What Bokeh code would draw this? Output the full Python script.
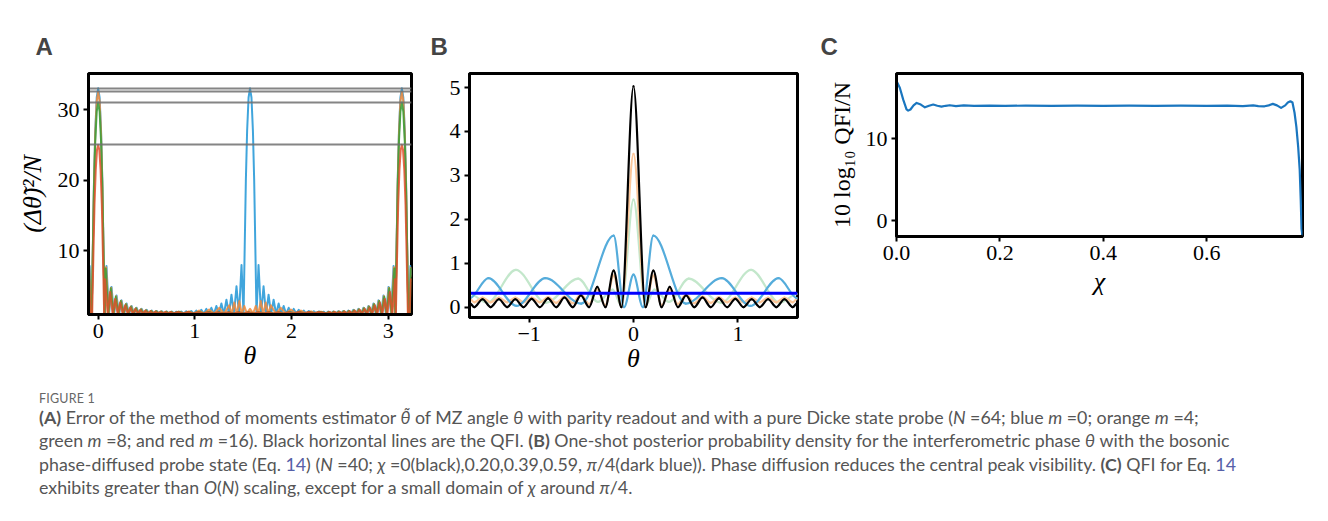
from bokeh.plotting import figure
from bokeh.models import FixedTicker, Div, PrintfTickFormatter
from bokeh.layouts import row, column
from bokeh.embed import file_html
from bokeh.resources import INLINE

# ---------------- Panel A data: (Δθ̃)²/N vs θ, N=64, m = 0, 4, 8, 16 ----------------
qfi_lines = [33.0, 32.5, 31.0, 25.0]

theta_blue = ([-0.100, -0.088, -0.076]
              + [-0.067, -0.055, -0.043, -0.030, -0.015, 0.000, 0.015, 0.030, 0.043, 0.055, 0.067]
              + [0.086, 0.112, 0.138, 0.164, 0.190, 0.216, 0.242, 0.268, 0.294, 0.320, 0.346, 0.372, 0.398, 0.424,
                 0.450, 0.476, 0.502, 0.528, 0.554, 0.580, 0.606, 0.632, 0.658, 0.684, 0.710, 0.736, 0.762, 0.788]
              + [0.807, 0.833, 0.859, 0.885, 0.911, 0.937, 0.963, 0.989, 1.015, 1.041, 1.067, 1.093, 1.119, 1.145,
                 1.171, 1.197, 1.223, 1.249, 1.275, 1.301, 1.327, 1.353, 1.379, 1.405, 1.431, 1.457, 1.483]
              + [1.504, 1.516, 1.528, 1.541, 1.556, 1.571, 1.586, 1.601, 1.614, 1.626, 1.638]
              + [1.659, 1.685, 1.711, 1.737, 1.763, 1.789, 1.815, 1.841, 1.867, 1.893, 1.919, 1.945, 1.971, 1.997,
                 2.023, 2.049, 2.075, 2.101, 2.127, 2.153, 2.179, 2.205, 2.231, 2.257, 2.283, 2.309, 2.335]
              + [2.354, 2.380, 2.406, 2.432, 2.458, 2.484, 2.510, 2.536, 2.562, 2.588, 2.614, 2.640, 2.666, 2.692,
                 2.718, 2.744, 2.770, 2.796, 2.822, 2.848, 2.874, 2.900, 2.926, 2.952, 2.978, 3.004, 3.030, 3.056]
              + [3.075, 3.087, 3.099, 3.112, 3.127, 3.142, 3.157, 3.172, 3.185, 3.197, 3.209]
              + [3.218, 3.230, 3.242])
err_blue = ([6.5, 7.85, 1.0]
            + [1.0, 10.5, 20.0, 27.0, 31.7, 33.0, 31.7, 27.0, 20.0, 10.5, 1.0]
            + [7.85, 1.0, 4.9, 1.0, 3.7, 1.02, 3.0, 1.05, 2.55, 1.07, 2.2, 1.08, 1.95, 1.1,
               1.8, 1.1, 1.65, 1.12, 1.55, 1.12, 1.5, 1.13, 1.45, 1.13, 1.42, 1.14, 1.4, 1.14]
            + [1.4, 1.14, 1.42, 1.13, 1.45, 1.13, 1.5, 1.12, 1.55, 1.12, 1.65, 1.1, 1.8, 1.1,
               1.95, 1.08, 2.2, 1.07, 2.55, 1.05, 3.1, 1.02, 3.8, 1.0, 5.0, 1.0, 8.0]
            + [1.0, 10.5, 20.0, 27.0, 31.7, 33.0, 31.7, 27.0, 20.0, 10.5, 1.0]
            + [8.0, 1.0, 5.0, 1.0, 3.8, 1.02, 3.1, 1.05, 2.55, 1.07, 2.2, 1.08, 1.95, 1.1,
               1.8, 1.1, 1.65, 1.12, 1.55, 1.12, 1.5, 1.13, 1.45, 1.13, 1.42, 1.14, 1.4]
            + [1.14, 1.4, 1.14, 1.42, 1.13, 1.45, 1.13, 1.5, 1.12, 1.55, 1.12, 1.65, 1.1, 1.8,
               1.1, 1.95, 1.08, 2.2, 1.07, 2.55, 1.05, 3.0, 1.02, 3.7, 1.0, 4.9, 1.0, 7.85]
            + [1.0, 10.5, 20.0, 27.0, 31.7, 33.0, 31.7, 27.0, 20.0, 10.5, 1.0]
            + [1.0, 7.85, 6.5])

theta_orange = ([-0.100, -0.092, -0.080]
                + [-0.067, -0.055, -0.043, -0.030, -0.015, 0.000, 0.015, 0.030, 0.043, 0.055, 0.067]
                + [0.082, 0.108, 0.134, 0.160, 0.186, 0.212, 0.238, 0.264, 0.290, 0.316, 0.342, 0.368, 0.394, 0.420,
                   0.446, 0.472, 0.498, 0.524, 0.550, 0.576, 0.602, 0.628, 0.654, 0.680, 0.706, 0.732, 0.758, 0.784]
                + [0.836, 0.888, 0.940, 0.992, 1.044, 1.096, 1.148, 1.200, 1.252, 1.304, 1.356, 1.382, 1.408,
                   1.434, 1.460, 1.486, 1.512, 1.538, 1.571, 1.604, 1.630, 1.656, 1.682, 1.708, 1.734, 1.760,
                   1.786, 1.838, 1.890, 1.942, 1.994, 2.046, 2.098, 2.150, 2.202, 2.254, 2.306]
                + [2.358, 2.384, 2.410, 2.436, 2.462, 2.488, 2.514, 2.540, 2.566, 2.592, 2.618, 2.644, 2.670, 2.696,
                   2.722, 2.748, 2.774, 2.800, 2.826, 2.852, 2.878, 2.904, 2.930, 2.956, 2.982, 3.008, 3.034, 3.060]
                + [3.075, 3.087, 3.099, 3.112, 3.127, 3.142, 3.157, 3.172, 3.185, 3.197, 3.209]
                + [3.222, 3.234, 3.242])
err_orange = ([6.3, 7.6, 1.0]
              + [1.0, 10.3, 19.7, 26.6, 31.2, 32.5, 31.2, 26.6, 19.7, 10.3, 1.0]
              + [7.7, 1.0, 4.8, 1.0, 3.6, 1.02, 2.95, 1.05, 2.5, 1.07, 2.15, 1.08, 1.9, 1.1,
                 1.75, 1.1, 1.6, 1.12, 1.52, 1.12, 1.47, 1.13, 1.43, 1.13, 1.4, 1.14, 1.38, 1.14]
              + [1.4, 1.14, 1.45, 1.13, 1.55, 1.12, 1.7, 1.1, 1.95, 1.1, 2.3, 1.08, 2.7,
                 1.08, 2.9, 1.1, 2.2, 1.15, 1.8, 1.15, 2.2, 1.1, 2.9, 1.08, 2.7, 1.08,
                 2.3, 1.1, 1.95, 1.1, 1.7, 1.12, 1.55, 1.13, 1.45, 1.14, 1.4]
              + [1.14, 1.38, 1.14, 1.4, 1.13, 1.43, 1.13, 1.47, 1.12, 1.52, 1.12, 1.6, 1.1, 1.75,
                 1.1, 1.9, 1.08, 2.15, 1.07, 2.5, 1.05, 2.95, 1.02, 3.6, 1.0, 4.8, 1.0, 7.7]
              + [1.0, 10.3, 19.7, 26.6, 31.2, 32.5, 31.2, 26.6, 19.7, 10.3, 1.0]
              + [1.0, 7.6, 6.3])

theta_green = ([-0.100, -0.094, -0.082]
               + [-0.067, -0.055, -0.043, -0.030, -0.015, 0.000, 0.015, 0.030, 0.043, 0.055, 0.067]
               + [0.078, 0.104, 0.130, 0.156, 0.182, 0.208, 0.234, 0.260, 0.286, 0.312, 0.338, 0.364, 0.390, 0.416,
                  0.442, 0.468, 0.494, 0.520, 0.546, 0.572, 0.598, 0.624, 0.650, 0.676, 0.702, 0.728, 0.754, 0.780]
               + [0.832, 0.884, 0.936, 0.988, 1.040, 1.092, 1.144, 1.196, 1.248, 1.300, 1.352, 1.404, 1.456,
                  1.508, 1.560, 1.612, 1.664, 1.716, 1.768, 1.820, 1.872, 1.924, 1.976, 2.028, 2.080, 2.132,
                  2.184, 2.236, 2.288]
               + [2.362, 2.388, 2.414, 2.440, 2.466, 2.492, 2.518, 2.544, 2.570, 2.596, 2.622, 2.648, 2.674, 2.700,
                  2.726, 2.752, 2.778, 2.804, 2.830, 2.856, 2.882, 2.908, 2.934, 2.960, 2.986, 3.012, 3.038, 3.064]
               + [3.075, 3.087, 3.099, 3.112, 3.127, 3.142, 3.157, 3.172, 3.185, 3.197, 3.209]
               + [3.224, 3.236, 3.242])
err_green = ([6.8, 7.5, 1.0]
             + [1.0, 10.0, 19.0, 25.5, 29.7, 31.0, 29.7, 25.5, 19.0, 10.0, 1.0]
             + [7.5, 1.0, 4.7, 1.0, 3.5, 1.02, 2.9, 1.05, 2.45, 1.07, 2.1, 1.08, 1.88, 1.1,
                1.72, 1.1, 1.6, 1.12, 1.5, 1.12, 1.45, 1.13, 1.42, 1.13, 1.4, 1.14, 1.38, 1.14]
             + [1.38, 1.14, 1.36, 1.14, 1.35, 1.14, 1.35, 1.15, 1.34, 1.15, 1.34, 1.15, 1.33, 1.15,
                1.33, 1.15, 1.33, 1.15, 1.34, 1.15, 1.34, 1.15, 1.35, 1.14, 1.35, 1.14, 1.36, 1.14, 1.38]
             + [1.14, 1.38, 1.14, 1.4, 1.13, 1.42, 1.13, 1.45, 1.12, 1.5, 1.12, 1.6, 1.1, 1.72,
                1.1, 1.88, 1.08, 2.1, 1.07, 2.45, 1.05, 2.9, 1.02, 3.5, 1.0, 4.7, 1.0, 7.5]
             + [1.0, 10.0, 19.0, 25.5, 29.7, 31.0, 29.7, 25.5, 19.0, 10.0, 1.0]
             + [1.0, 7.5, 6.8])

theta_red = ([-0.100, -0.094, -0.080]
             + [-0.062, -0.050, -0.038, -0.025, -0.012, 0.000, 0.012, 0.025, 0.038, 0.050, 0.062]
             + [0.072, 0.098, 0.124, 0.150, 0.176, 0.202, 0.228, 0.254, 0.280, 0.306, 0.332, 0.358, 0.384, 0.410,
                0.436, 0.462, 0.488, 0.514, 0.540, 0.566, 0.592, 0.618, 0.644, 0.670, 0.696, 0.722, 0.748, 0.774]
             + [0.826, 0.878, 0.930, 0.982, 1.034, 1.086, 1.138, 1.190, 1.242, 1.294, 1.346, 1.398, 1.450,
                1.502, 1.554, 1.606, 1.658, 1.710, 1.762, 1.814, 1.866, 1.918, 1.970, 2.022, 2.074, 2.126,
                2.178, 2.230, 2.282]
             + [2.368, 2.394, 2.420, 2.446, 2.472, 2.498, 2.524, 2.550, 2.576, 2.602, 2.628, 2.654, 2.680, 2.706,
                2.732, 2.758, 2.784, 2.810, 2.836, 2.862, 2.888, 2.914, 2.940, 2.966, 2.992, 3.018, 3.044, 3.070]
             + [3.080, 3.092, 3.104, 3.117, 3.130, 3.142, 3.154, 3.167, 3.180, 3.192, 3.204]
             + [3.222, 3.236, 3.242])
err_red = ([5.5, 6.0, 1.0]
           + [1.0, 9.0, 16.5, 21.5, 24.3, 25.0, 24.3, 21.5, 16.5, 9.0, 1.0]
           + [6.0, 1.0, 4.2, 1.0, 3.2, 1.02, 2.7, 1.05, 2.3, 1.07, 2.0, 1.08, 1.8, 1.1,
              1.65, 1.1, 1.55, 1.12, 1.48, 1.12, 1.42, 1.13, 1.4, 1.13, 1.38, 1.14, 1.36, 1.14]
           + [1.36, 1.14, 1.35, 1.14, 1.34, 1.15, 1.33, 1.15, 1.33, 1.15, 1.32, 1.15, 1.32, 1.15,
              1.32, 1.15, 1.32, 1.15, 1.33, 1.15, 1.33, 1.15, 1.34, 1.14, 1.35, 1.14, 1.35, 1.14, 1.36]
           + [1.14, 1.36, 1.14, 1.38, 1.13, 1.4, 1.13, 1.42, 1.12, 1.48, 1.12, 1.55, 1.1, 1.65,
              1.1, 1.8, 1.08, 2.0, 1.07, 2.3, 1.05, 2.7, 1.02, 3.2, 1.0, 4.2, 1.0, 6.0]
           + [1.0, 9.0, 16.5, 21.5, 24.3, 25.0, 24.3, 21.5, 16.5, 9.0, 1.0]
           + [1.0, 6.0, 5.5])

# ---------------- Panel B data: posterior density vs θ (extrema) ----------------
phase_black = [-1.5708, -1.525, -1.446, -1.368, -1.289, -1.21, -1.132, -1.054, -0.975, -0.897, -0.818,
               -0.74, -0.661, -0.582, -0.504, -0.425, -0.347, -0.27, -0.19, -0.115, 0.0, 0.115, 0.19, 0.27,
               0.347, 0.425, 0.504, 0.582, 0.661, 0.74, 0.818, 0.897, 0.975, 1.054, 1.132, 1.21, 1.289,
               1.368, 1.446, 1.525, 1.5708]
dens_black = [0.1, 0.0, 0.18, 0.0, 0.18, 0.0, 0.18, 0.0, 0.19, 0.0, 0.2, 0.0, 0.22, 0.0, 0.27, 0.0, 0.46,
              0.0, 0.83, 0.0, 5.03, 0.0, 0.83, 0.0, 0.46, 0.0, 0.27, 0.0, 0.22, 0.0, 0.2, 0.0, 0.19, 0.0,
              0.18, 0.0, 0.18, 0.0, 0.18, 0.0, 0.1]
phase_orange = phase_black
dens_orange = [0.2, 0.11, 0.22, 0.11, 0.22, 0.11, 0.22, 0.11, 0.22, 0.11, 0.23, 0.1, 0.24, 0.09, 0.3,
               0.07, 0.4, 0.04, 0.72, 0.02, 3.49, 0.02, 0.72, 0.04, 0.4, 0.07, 0.3, 0.09, 0.24, 0.1, 0.23,
               0.11, 0.22, 0.11, 0.22, 0.11, 0.22, 0.11, 0.22, 0.11, 0.2]
phase_green = [-1.5708, -1.40, -1.126, -0.84, -0.53, -0.34, -0.2, -0.115, 0.0, 0.115, 0.2, 0.34, 0.53,
               0.84, 1.126, 1.40, 1.5708]
dens_green = [0.3, 0.1, 0.85, 0.1, 0.65, 0.12, 0.4, 0.03, 2.45, 0.03, 0.4, 0.12, 0.65, 0.1, 0.85, 0.1, 0.3]
phase_blue = [-1.5708, -1.39, -1.12, -0.845, -0.5, -0.19, -0.09, 0.0, 0.09, 0.19, 0.5, 0.845, 1.12, 1.39, 1.5708]
dens_blue = [0.2, 0.66, 0.03, 0.66, 0.08, 1.63, 0.0, 0.74, 0.0, 1.63, 0.08, 0.66, 0.03, 0.66, 0.2]
phase_dark = [-1.5708, 1.5708]
dens_dark = [0.318, 0.318]

# ---------------- Panel C data: 10 log10(QFI/N) vs χ ----------------
chi = [0.0, 0.0064, 0.013, 0.0194, 0.0226, 0.027, 0.033, 0.039, 0.047, 0.055, 0.063, 0.071, 0.079, 0.087,
       0.095, 0.103, 0.115, 0.13, 0.15, 0.18, 0.21, 0.25, 0.30, 0.35, 0.40, 0.45, 0.50, 0.55, 0.60, 0.64,
       0.67, 0.69, 0.70, 0.712, 0.72, 0.728, 0.736, 0.744, 0.752, 0.757, 0.762, 0.766, 0.770, 0.7735,
       0.777, 0.780, 0.782, 0.7835, 0.7854]
qfi_db = [17.07, 16.25, 14.8, 13.6, 13.46, 13.6, 14.1, 14.4, 14.2, 13.86, 14.05, 14.2, 14.05, 13.95,
          14.05, 14.12, 14.02, 14.1, 14.03, 14.08, 14.04, 14.07, 14.05, 14.07, 14.05, 14.06, 14.04, 14.06,
          14.04, 14.08, 14.02, 14.1, 14.0, 13.99, 14.1, 14.28, 14.1, 13.79, 14.1, 14.45, 14.6, 14.45, 13.2,
          11.5, 9.05, 6.2, 2.5, -1.0, -1.9]

SERIF = "Liberation Serif"
TOP = 73
BOTTOM = 78


def style(p, label, offset):
    p.grid.visible = False
    p.outline_line_color = "black"
    p.outline_line_width = 3
    p.background_fill_color = "white"
    p.border_fill_color = "white"
    for ax in (p.xaxis[0], p.yaxis[0]):
        ax.axis_line_color = "black"
        ax.axis_line_width = 3
        ax.major_tick_out = 5
        ax.major_tick_in = 0
        ax.major_tick_line_width = 2
        ax.minor_tick_line_color = None
        ax.major_label_text_font = SERIF
        ax.major_label_text_font_size = "22px"
        ax.major_label_text_color = "black"
        ax.axis_label_text_font = SERIF
        ax.axis_label_text_font_size = "26px"
        ax.axis_label_text_color = "black"
    p.xaxis.major_label_standoff = 4
    p.yaxis.major_label_standoff = 4
    p.xaxis.axis_label_standoff = 0
    p.title.text = label
    p.title.align = "left"
    p.title.offset = offset
    p.title.text_font = "Liberation Sans"
    p.title.text_font_style = "bold"
    p.title.text_font_size = "24px"
    p.title.vertical_align = "top"
    p.title.standoff = 24


def bez(p, xs, ys, **kw):
    x0 = xs[:-1]
    x1 = xs[1:]
    y0 = ys[:-1]
    y1 = ys[1:]
    cx0 = [a + (b - a) / 3.0 for a, b in zip(x0, x1)]
    cx1 = [b - (b - a) / 3.0 for a, b in zip(x0, x1)]
    p.bezier(x0=x0, y0=y0, x1=x1, y1=y1, cx0=cx0, cy0=y0, cx1=cx1, cy1=y1, line_cap="round", **kw)


# ---------------- Panel A ----------------
pA = figure(width=425, height=TOP + 241 + BOTTOM, x_range=(-0.1, 3.2416), y_range=(1.0, 35.1),
            output_backend="svg", toolbar_location=None,
            min_border_left=88, min_border_right=14, min_border_top=TOP, min_border_bottom=BOTTOM)
style(pA, "A", -53)
pA.xaxis.ticker = FixedTicker(ticks=[0, 1, 2, 3])
pA.yaxis.ticker = FixedTicker(ticks=[10, 20, 30])
pA.xaxis.axis_label = "θ"
pA.xaxis.axis_label_text_font_style = "italic"
pA.yaxis.axis_label = "(Δθ̃)²/N"
pA.yaxis.axis_label_text_font_style = "italic"
pA.yaxis.axis_label_standoff = 8
pA.line(theta_blue, err_blue, line_color="#2b9bd8", line_width=2, line_alpha=0.9, line_join="round")
pA.line(theta_orange, err_orange, line_color="#f28a3a", line_width=2, line_alpha=0.85, line_join="round")
pA.line(theta_green, err_green, line_color="#35a03a", line_width=2, line_alpha=0.85, line_join="round")
pA.line(theta_red, err_red, line_color="#e0502c", line_width=2, line_alpha=0.85, line_join="round")
pA.hspan(y=qfi_lines, line_color="#707070", line_width=2, line_alpha=0.85)

# ---------------- Panel B ----------------
pB = figure(width=395, height=TOP + 244 + BOTTOM, x_range=(-1.5708, 1.5708), y_range=(-0.235, 5.32),
            output_backend="svg", toolbar_location=None,
            min_border_left=44, min_border_right=23, min_border_top=TOP, min_border_bottom=BOTTOM)
style(pB, "B", -39)
pB.xaxis.ticker = FixedTicker(ticks=[-1, 0, 1])
pB.xaxis.major_label_overrides = {-1: "−1"}
pB.yaxis.ticker = FixedTicker(ticks=[0, 1, 2, 3, 4, 5])
pB.xaxis.axis_label = "θ"
pB.xaxis.axis_label_text_font_style = "italic"
bez(pB, phase_green, dens_green, line_color="#c3e7cb", line_width=2.2)
bez(pB, phase_orange, dens_orange, line_color="#fcc699", line_width=2.2)
bez(pB, phase_blue, dens_blue, line_color="#55acdb", line_width=2.2)
bez(pB, phase_black, dens_black, line_color="black", line_width=2.2)
pB.line(phase_dark, dens_dark, line_color="#0000ff", line_width=3)

# ---------------- Panel C ----------------
pC = figure(width=500, height=TOP + 163 + BOTTOM, x_range=(0.0, 0.7854), y_range=(-1.94, 18.0),
            output_backend="svg", toolbar_location=None,
            min_border_left=76, min_border_right=18, min_border_top=TOP, min_border_bottom=BOTTOM)
style(pC, "C", -76)
pC.xaxis.ticker = FixedTicker(ticks=[0.0, 0.2, 0.4, 0.6])
pC.xaxis.formatter = PrintfTickFormatter(format="%.1f")
pC.yaxis.ticker = FixedTicker(ticks=[0, 10])
pC.xaxis.axis_label = "χ"
pC.xaxis.axis_label_text_font_style = "italic"
pC.xaxis.axis_label_standoff = 4
pC.yaxis.axis_label = "10 log₁₀ QFI/N"
pC.yaxis.axis_label_text_font_style = "normal"
pC.yaxis.axis_label_text_font_size = "24px"
pC.yaxis.axis_label_standoff = 8
pC.line(chi, qfi_db, line_color="#1a76bf", line_width=2.2, line_join="round")

# ---------------- Caption ----------------
link = "color:#5660a8"
caption = f"""
<div style="font-family:'Lato','Open Sans',sans-serif;color:#555555;padding-left:34px;padding-top:0px;">
<div style="font-size:12.5px;line-height:12.5px;padding-top:2px;color:#666666;letter-spacing:0.2px;">FIGURE 1</div>
<div style="font-size:17.8px;line-height:23.5px;white-space:nowrap;">
<b>(A)</b> Error of the method of moments estimator <i>θ̃</i> of MZ angle <i>θ</i> with parity readout and with a pure Dicke state probe (<i>N</i> =64; blue <i>m</i> =0; orange <i>m</i> =4;<br>
green <i>m</i> =8; and red <i>m</i> =16). Black horizontal lines are the QFI. <b>(B)</b> One-shot posterior probability density for the interferometric phase <i>θ</i> with the bosonic<br>
phase-diffused probe state (Eq. <span style="{link}">14</span>) (<i>N</i> =40; <i>χ</i> =0(black),0.20,0.39,0.59, <i>π</i>/4(dark blue)). Phase diffusion reduces the central peak visibility. <b>(C)</b> QFI for Eq. <span style="{link}">14</span><br>
exhibits greater than <i>O</i>(<i>N</i>) scaling, except for a small domain of <i>χ</i> around <i>π</i>/4.
</div></div>
"""
div = Div(text=caption, width=1312, height=118, styles={"margin-top": "-4px"})

layout = column(row(pA, pB, pC), div)
open("out.html", "w").write(file_html(layout, INLINE))
